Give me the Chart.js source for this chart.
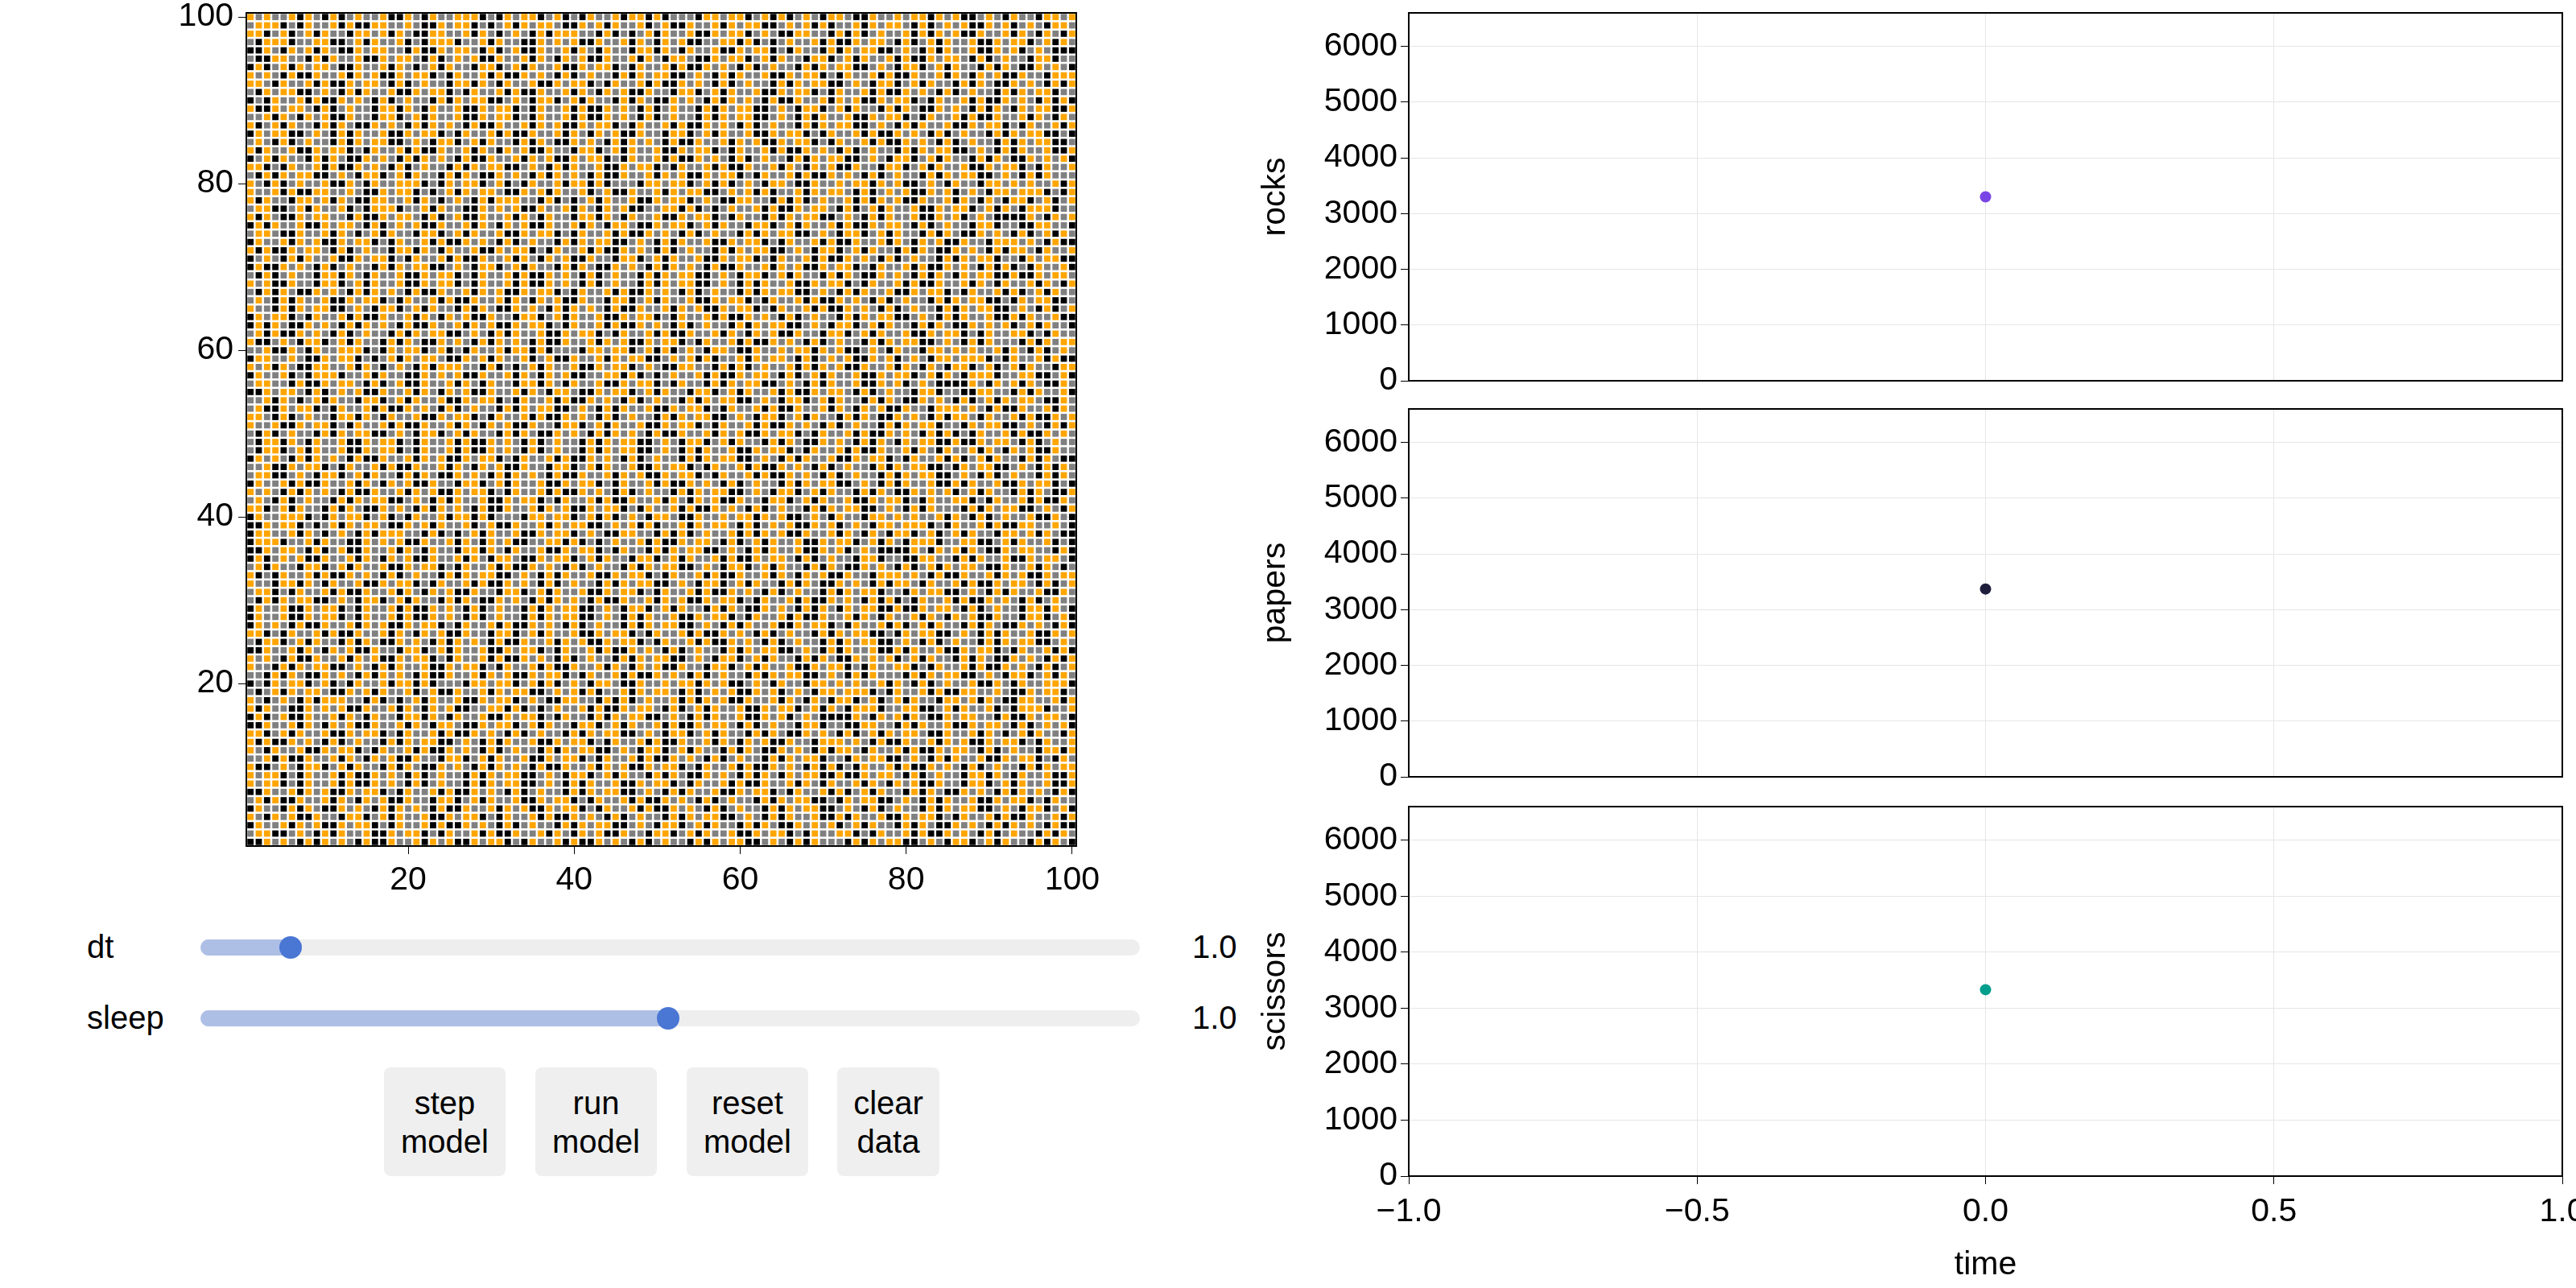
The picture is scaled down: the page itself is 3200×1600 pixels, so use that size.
<!DOCTYPE html>
<html>
<head>
<meta charset="utf-8">
<script src="https://cdn.jsdelivr.net/npm/chart.js@4"></script>
<style>
  body { margin:0; width:3200px; height:1600px; background:#fff; position:relative; font-family:"Liberation Sans", Arial, sans-serif; overflow:hidden; }
  canvas { position:absolute; }
  .lbl { position:absolute; font-size:40px; color:#000; }
  .track { position:absolute; left:249px; width:1167px; height:20px; border-radius:10px; background:#eee; }
  .fill { position:absolute; left:0; top:0; height:20px; border-radius:10px; background:#aebfe6; }
  .knob { position:absolute; top:-4px; width:28px; height:28px; border-radius:14px; background:#4a76d4; margin-left:-14px; }
  .btn { position:absolute; top:1326px; height:135px; background:#efefef; border-radius:8px; font-size:40px; text-align:center; display:flex; align-items:center; justify-content:center; line-height:48px; }
</style>
</head>
<body>
<canvas id="grid"></canvas>
<canvas id="rocks"></canvas>
<canvas id="papers"></canvas>
<canvas id="scissors"></canvas>

<div class="lbl" style="left:108px;top:1154px">dt</div>
<div class="track" style="top:1167px"><div class="fill" style="width:112px"></div><div class="knob" style="left:112px"></div></div>
<div class="lbl" style="left:1481px;top:1154px">1.0</div>
<div class="lbl" style="left:108px;top:1242px">sleep</div>
<div class="track" style="top:1255px"><div class="fill" style="width:581px"></div><div class="knob" style="left:581px"></div></div>
<div class="lbl" style="left:1481px;top:1242px">1.0</div>

<div class="btn" style="left:477px;width:151px">step<br>model</div>
<div class="btn" style="left:665px;width:151px">run<br>model</div>
<div class="btn" style="left:853px;width:151px">reset<br>model</div>
<div class="btn" style="left:1040px;width:127px">clear<br>data</div>

<script>
// ***** agent grid, rows read top to bottom (g = orange, o = gray, b = black) *****
var gridRows = [
  "gogoogbgobgbogoogbbgobgoogggbobgoggbogbobgoogbggbgbooobggoggbogbgbogobggobbgoogoggbgogbbogobgoobggo",
  "ogggbobgoogbgbbggoogobbgoggbobogbgoggobbgogbgoogbogbbgoogbgoggbbogogbgboogbgoggobgbogogbbgogbogobgg",
  "ggbogbogbgoobggogbgobbggoogbgobogobgbgggoobgbobogbgoogbbgoggbogobbggoobgbgbogoogbgbgogbbgoogbgobgob",
  "obgggbooggbbogbgoogbobgggboogbgoobbgogogbbgoogbgobgogbbooggbgbobogoogbgbbgoggobgbogbgoogbbgoggbogbg",
  "bbgobgogbgobbgoggoobgbbgoggobgbogbbgoogbgobgoobggbgobgoogbbgoggbobgoobgbgoggbbogobgbgoogbbgogbogobb",
  "obbggoobgbgoogbbgoggobgbogogbbgoogbgobgogbbgoogbgobggobbgoggbogbgoobggbogbgoogbgbbgoggobgbogoobggbo",
  "bgbogbgoggobbgoogbgobogbgoobggbogbgoogbbgoggbobgoogbgbbgogobgbogoobgbgoggbbogobggbogbgoobgbgobbgogo",
  "gogobgbbgoogbgogbbgoggbobgoogbgbbgogobgbogoobgbgoggbbogobgbgoogbbgoggbobgoogbgbbgoogbgobgogbbgoobgg",
  "ggobgoogbgbbgoggobgbogoobggbgobgoogbbgoggbobgoogbgbbgogobgbogoobgbgoggbbogobggbogbgoobgbgobbgogobgb",
  "obgoggbbogobgbgoogbbgoggbobgoogbgbbgoogbgobgogbbgoobggbogbgoogbbgoggbobgoogbgbbgogobgbogoobgbgoggbo",
  "bobgoogbgbbgogobgbogoobgbgoggbbogobggbogbgoobgbgobbgogobgbgogobgbbgoogbgogbbgoggbobgoogbgbbgogobgbg",
  "gbbgoggobgbogoobggbgobgoogbbgoggbobgoogbgbbgogobgbogoobgbgoggbbogobggbogbgoobgbgobbgogobgbgobgoggbb",
  "oogbgobgogbbgoobggbogbgoogbbgoggbobgoogbgbbgogobgbogoobgbgoggbbogobgbgoogbbgoggbobgoogbgbbgoogbgobg",
  "gbogbgoobgbgobbgogobgbgogobgbbgoogbgogbbgoggbobgoogbgbbgogobgbogoobgbgoggbbogobgbgoogbbgoggbobgoogb",
  "bgoggbbogobgbgoogbbgoggbobgoogbgbbgoogbgobgogbbgoobggbogbgoogbbgoggbobgoogbgbbgogobgbogoobgbgoggbbo",
  "ogobgbogoobgbgoggbbogobggbogbgoobgbgobbgogobgbgogobgbbgoogbgogbbgoggbobgoogbgbbgogobgbogoobgbgoggbb",
  "gbgoogbbgoggbobgoogbgbbgoogbgobgogbbgoobggbogbgoogbbgoggbobgoogbgbbgogobgbogoobgbgoggbbogobgbgoogbb",
  "bogbgoobgbgobbgogobgbgogobgbbgoogbgogbbgoggbobgoogbgbbgogobgbogoobgbgoggbbogobggbogbgoobgbgobbgogog",
  "ggbobgoogbgbbgogobgbogoobgbgoggbbogobgbgoogbbgoggbobgoogbgbbgoogbgobgogbbgoobggbogbgoogbbgoggbobgoo",
  "obgbgoggbbogobggbogbgoobgbgobbgogobgbgogobgbbgoogbgogbbgoggbobgoogbgbbgogobgbogoobgbgoggbbogobgbgoo"
];
var gridTicks = [20, 40, 60, 80, 100];

// ***** population counts at time 0 *****
var timeValues = [0];
var rocksValues = [3300];
var papersValues = [3370];
var scissorsValues = [3330];
var timeTicks = [-1, -0.5, 0, 0.5, 1];
var countTicks = [0, 1000, 2000, 3000, 4000, 5000, 6000];

var FONT = { family: "Liberation Sans, Arial, sans-serif", size: 41 };
Chart.defaults.color = "#000";
Chart.defaults.font = FONT;

// draw the full black box around the plot area
var boxPlugin = {
  id: "box",
  afterDraw: function(chart) {
    var a = chart.chartArea, c = chart.ctx;
    c.save();
    c.strokeStyle = "#000";
    c.lineWidth = 2;
    c.strokeRect(a.left, a.top, a.right - a.left, a.bottom - a.top);
    c.restore();
  }
};

function place(id, left, top, w, h) {
  var el = document.getElementById(id);
  el.style.left = left + "px";
  el.style.top = top + "px";
  el.width = w;
  el.height = h;
  return el;
}

// fixed axis size, and no extra room kept for overhanging tick labels
function fitX(h) {
  return function(s) { s.height = h; s.paddingLeft = 0; s.paddingRight = 0; };
}
function fitY(w) {
  return function(s) { s.width = w; s.paddingTop = 0; s.paddingBottom = 0; };
}

// ---------------- grid ----------------
var pts = { o: [], g: [], b: [] };
for (var r = 0; r < 100; r++) {
  var row = gridRows[r % gridRows.length];
  var shift = 7 * Math.floor(r / gridRows.length);
  for (var c = 0; c < 100; c++) {
    var t = row.charAt((c + shift) % row.length);
    if (!pts[t]) t = "g";
    pts[t].push({ x: c + 1, y: 100 - r });
  }
}

function fixTicks(list) {
  return function(scale) { scale.ticks = list.map(function(v) { return { value: v }; }); };
}
function plain(v) { return String(v); }

var gridEl = place("grid", 0, 0, 1420, 1120);
new Chart(gridEl, {
  type: "scatter",
  data: {
    datasets: [
      { data: pts.g, backgroundColor: "#ffa500" },
      { data: pts.o, backgroundColor: "#808080" },
      { data: pts.b, backgroundColor: "#000000" }
    ].map(function(d) {
      d.pointStyle = "rect"; d.pointRadius = 5.5; d.borderWidth = 0; d.pointHoverRadius = 5.5;
      return d;
    })
  },
  options: {
    responsive: false, animation: false, devicePixelRatio: 1,
    layout: { autoPadding: false, padding: { top: 16, right: 83 } },
    plugins: { legend: { display: false }, tooltip: { enabled: false } },
    scales: {
      x: {
        min: 0.5, max: 100.5,
        afterBuildTicks: fixTicks(gridTicks),
        afterFit: fitX(69),
        grid: { color: "#e6e6e6", tickColor: "#000", tickLength: 10 },
        border: { display: false },
        ticks: { padding: 8, callback: plain }
      },
      y: {
        min: 0.5, max: 100.5,
        afterBuildTicks: fixTicks(gridTicks),
        afterFit: fitY(306),
        grid: { color: "#e6e6e6", tickColor: "#000", tickLength: 10 },
        border: { display: false },
        ticks: { padding: 6, callback: plain }
      }
    }
  },
  plugins: [boxPlugin]
});

// ---------------- time series panels ----------------
function panel(id, title, values, color, top, h, padTop, xHeight, showX) {
  var el = place(id, 1560, top, 1640, h);
  new Chart(el, {
    type: "scatter",
    data: {
      datasets: [{
        data: timeValues.map(function(t, i) { return { x: t, y: values[i] }; }),
        backgroundColor: color, borderWidth: 0, pointRadius: 7, pointHoverRadius: 7
      }]
    },
    options: {
      responsive: false, animation: false, devicePixelRatio: 1,
      layout: { autoPadding: false, padding: { top: padTop, right: 17 } },
      plugins: { legend: { display: false }, tooltip: { enabled: false } },
      scales: {
        x: {
          min: -1, max: 1,
          afterBuildTicks: fixTicks(timeTicks),
          afterFit: fitX(xHeight),
          grid: { color: "#e6e6e6", tickColor: "#000", tickLength: showX ? 10 : 0, drawTicks: showX },
          border: { display: false },
          ticks: {
            display: showX, padding: 10,
            callback: function(v) { return Number(v).toFixed(1).replace("-", "\u2212"); }
          },
          title: { display: showX, text: "time", padding: { top: 0 } }
        },
        y: {
          min: 0, max: 6600,
          afterBuildTicks: fixTicks(countTicks),
          afterFit: fitY(190),
          grid: { color: "#e6e6e6", tickColor: "#000", tickLength: 10 },
          border: { display: false },
          ticks: { padding: 4, callback: plain },
          title: { display: true, text: title, padding: 0 }
        }
      }
    },
    plugins: [boxPlugin]
  });
}

panel("rocks", "rocks", rocksValues, "#7a45e5", 0, 490, 16, 17, false);
panel("papers", "papers", papersValues, "#1e1e3c", 490, 490, 18, 15, false);
panel("scissors", "scissors", scissorsValues, "#009e8c", 980, 620, 22, 139, true);
</script>
</body>
</html>
